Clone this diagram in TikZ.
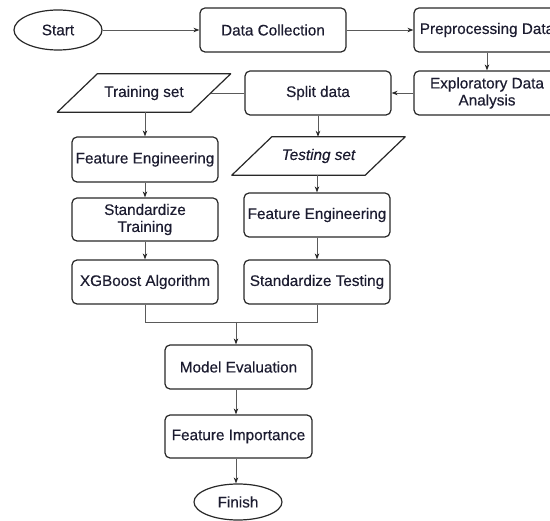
\documentclass[tikz,border=0pt]{standalone}
\usepackage{fontspec}
\setmainfont{Liberation Sans}
\newfontfamily\semib[FakeBold=0.35,ItalicFeatures={FakeBold=0.35}]{Liberation Sans}
\usetikzlibrary{arrows.meta,positioning,calc,shapes.geometric}
\definecolor{txt}{RGB}{28,28,48}
\definecolor{edge}{RGB}{40,40,40}
\definecolor{conn}{RGB}{90,90,90}
\tikzset{
  box/.style={rectangle, rounded corners=5pt, draw=edge, line width=1.2pt,
    minimum width=146pt, minimum height=44pt, inner sep=0pt, align=center,
    text=txt, font=\fontsize{15.3}{17}\semib},
  term/.style={ellipse, draw=edge, line width=1.2pt, minimum width=88pt,
    minimum height=40pt, inner sep=0pt, text=txt, font=\fontsize{15.3}{17}\semib},
  io/.style={rectangle, minimum width=133pt, minimum height=38pt, inner sep=0pt,
    text=txt, font=\fontsize{15.3}{17}\semib},
  ioshape/.style={draw=edge, line width=1.2pt, line join=round},
  conn/.style={draw=conn, line width=0.8pt},
  arr/.style={conn, -{Stealth[length=6pt,width=4.5pt,color=edge]}},
}
\begin{document}
\begin{tikzpicture}[x=1pt,y=-1pt]
\useasboundingbox (0,0) rectangle (550,521);
\clip (0,0) rectangle (550,521);
\fill[white] (0,0) rectangle (550,521);
% nodes
\node[term, minimum width=88pt, minimum height=40pt] (start) at (58,30) {Start};
\node[box] (dc) at (273,30) {Data Collection};
\node[box] (pre) at (487,30) {Preprocessing Data};
\node[box] (eda) at (487,93) {Exploratory Data\\Analysis};
\node[box] (split) at (318,93) {Split data};
\node[io] (train) at (144,93) {Training set};
\draw[ioshape] ([xshift=-20pt]train.south west) -- ([xshift=-20pt]train.south east)
  -- ([xshift=20pt]train.north east) -- ([xshift=20pt]train.north west) -- cycle;
\node[io, font=\fontsize{15.3}{17}\semib\itshape] (test) at (318.5,156) {Testing set};
\draw[ioshape] ([xshift=-20pt]test.south west) -- ([xshift=-20pt]test.south east)
  -- ([xshift=20pt]test.north east) -- ([xshift=20pt]test.north west) -- cycle;
\node[box, minimum height=45pt] (fe1) at (145,159.5) {Feature Engineering};
\node[box, minimum height=43pt] (st) at (145,219.5) {Standardize\\Training};
\node[box] (xg) at (145,282) {XGBoost Algorithm};
\node[box] (fe2) at (317,215) {Feature Engineering};
\node[box] (stt) at (317,282) {Standardize Testing};
\node[box, minimum width=147pt] (me) at (238.5,367) {Model Evaluation};
\node[box, minimum width=147pt, minimum height=43pt] (fi) at (238.5,436.5) {Feature Importance};
\node[term, minimum height=36pt] (fin) at (238,502) {Finish};
\coordinate (mL) at (145,322);
\coordinate (mR) at (317,322);
\coordinate (mC) at (236,322);
% connectors
\draw[arr] (start) -- (dc);
\draw[arr] (dc) -- (pre);
\draw[arr] (pre) -- (eda);
\draw[arr] (eda) -- (split);
\draw[conn] (train.east) -- (split.west);
\draw[arr] (train.south -| fe1.north) -- (fe1.north);
\draw[arr] (split.south) -- (split.south |- test.north);
\draw[arr] (fe1) -- (st);
\draw[arr] (st) -- (xg);
\draw[arr] (test.south -| fe2.north) -- (fe2.north);
\draw[arr] (fe2) -- (stt);
\draw[conn] (xg.south) -- (mL) -- (mR) -- (stt.south);
\draw[arr] (mC) -- (mC |- me.north);
\draw[arr] (me.south -| mC) -- (fi.north -| mC);
\draw[arr] (fi.south -| mC) -- (fin.north -| mC);
\end{tikzpicture}
\end{document}
